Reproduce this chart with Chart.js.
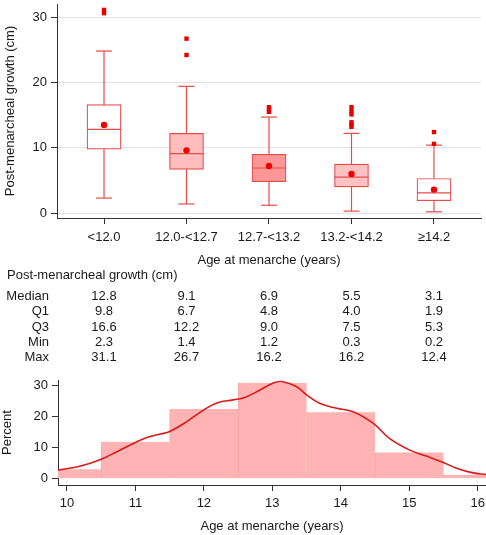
<!DOCTYPE html>
<html>
<head>
<meta charset="utf-8">
<script src="https://cdn.jsdelivr.net/npm/chart.js@4.4.1/dist/chart.umd.min.js"></script>
<style>
  body { margin: 0; background: #fff; font-family: "Liberation Sans", Arial, sans-serif; color: #1a1a1a; }
  #page { position: relative; width: 486px; height: 535px; overflow: hidden; }
  #boxWrap { position: absolute; left: 0; top: 0; width: 486px; height: 275px; }
  #histWrap { position: absolute; left: 0; top: 370px; width: 486px; height: 165px; }
  #summary { position: absolute; left: 0; top: 0; width: 486px; height: 535px; pointer-events: none; }
  #summary div { position: absolute; font-size: 13px; line-height: 15px; white-space: nowrap; }
</style>
</head>
<body>
<div id="page">
  <div id="boxWrap"><canvas id="boxChart"></canvas></div>
  <div id="histWrap"><canvas id="histChart"></canvas></div>
  <div id="summary"></div>
</div>
<script>
// box plot: post-menarcheal growth by age at menarche
const categories = ['<12.0', '12.0-<12.7', '12.7-<13.2', '13.2-<14.2', '≥14.2'];
const medians = [12.8, 9.1, 6.9, 5.5, 3.1];
const q1 = [9.8, 6.7, 4.8, 4.0, 1.9];
const q3 = [16.6, 12.2, 9.0, 7.5, 5.3];
const mins = [2.3, 1.4, 1.2, 0.3, 0.2];
const maxs = [31.1, 26.7, 16.2, 16.2, 12.4];
const whiskerTops = [24.8, 19.4, 14.7, 12.2, 10.4];
const means = [13.5, 9.6, 7.2, 6.0, 3.6];
const outliers = [
    [31.1, 30.6],
    [26.7, 24.2],
    [16.2, 15.9, 15.5],
    [16.2, 15.6, 15.1, 13.9, 13.5, 13.2],
    [12.4, 10.6]
];
const growthTicks = [0, 10, 20, 30];

// histogram + density of age at menarche
const ageBins = [10, 11, 12, 13, 14, 15, 16];
const binPercent = [3.1, 11.9, 22.5, 30.9, 21.4, 8.5, 1.3];
const kdeAge = [9.87, 10.2, 10.5, 10.73, 11.0, 11.17, 11.37, 11.5, 11.75, 12.0, 12.2, 12.43, 12.6, 12.82, 13.0, 13.13, 13.35, 13.5, 13.69, 13.94, 14.18, 14.47, 14.71, 15.0, 15.25, 15.47, 15.69, 15.93, 16.12];
const kdePercent = [2.8, 4.1, 6.3, 8.7, 11.7, 13.3, 14.4, 15.2, 18.4, 22.2, 24.5, 25.4, 26.2, 28.6, 30.7, 31.3, 29.7, 27.0, 24.3, 22.7, 21.6, 17.9, 13.0, 9.3, 7.3, 5.5, 3.4, 1.9, 1.4];
const ageTicks = [10, 11, 12, 13, 14, 15, 16];
const percentTicks = [0, 10, 20, 30];

// styles
const textColor = '#1a1a1a';
const axisColor = '#333333';
const edgeRed = '#e64b4b';
const boxFills = ['#ffffff', '#ffbdbd', '#ff9797', '#ffc1c1', '#ffffff'];
const font = { family: '"Liberation Sans", Arial, sans-serif', size: 13 };

function fixTicks(values) {
    return scale => { scale.ticks = values.map(v => ({ value: v })); };
}

// draw whiskers, caps and medians right after the boxes
const whiskerPlugin = {
    id: 'whiskers',
    afterDatasetDraw(chart, args) {
        if (args.meta.type !== 'bar') return;
        const { ctx } = chart;
        const y = chart.scales.y;
        const capHalf = 8;
        ctx.save();
        ctx.strokeStyle = edgeRed;
        ctx.lineWidth = 1.2;
        args.meta.data.forEach((bar, i) => {
            const cx = bar.x;
            const half = bar.width / 2;
            const lines = [
                [cx, y.getPixelForValue(q3[i]), cx, y.getPixelForValue(whiskerTops[i])],
                [cx - capHalf, y.getPixelForValue(whiskerTops[i]), cx + capHalf, y.getPixelForValue(whiskerTops[i])],
                [cx, y.getPixelForValue(q1[i]), cx, y.getPixelForValue(mins[i])],
                [cx - capHalf, y.getPixelForValue(mins[i]), cx + capHalf, y.getPixelForValue(mins[i])],
                [cx - half, y.getPixelForValue(medians[i]), cx + half, y.getPixelForValue(medians[i])]
            ];
            lines.forEach(l => {
                ctx.beginPath();
                ctx.moveTo(l[0], l[1]);
                ctx.lineTo(l[2], l[3]);
                ctx.stroke();
            });
        });
        ctx.restore();
    }
};

const boxChart = new Chart(document.getElementById('boxChart'), {
    type: 'bar',
    data: {
        datasets: [
            {
                type: 'scatter',
                label: 'Mean',
                data: means.map((v, i) => ({ x: i, y: v })),
                pointStyle: 'circle',
                pointRadius: 3.2,
                pointBorderWidth: 0,
                pointBackgroundColor: '#f00000',
                order: 0
            },
            {
                type: 'scatter',
                label: 'Outside values',
                data: outliers.flatMap((vals, i) => vals.map(v => ({ x: i, y: v }))),
                pointStyle: 'rect',
                pointRadius: 3.1,
                pointBorderWidth: 0,
                pointBackgroundColor: '#e60000',
                order: 1
            },
            {
                type: 'bar',
                label: 'IQR',
                data: q1.map((v, i) => ({ x: i, y: [v, q3[i]] })),
                backgroundColor: boxFills,
                borderColor: edgeRed,
                borderWidth: 1.2,
                borderSkipped: false,
                barThickness: 34,
                order: 2
            }
        ]
    },
    options: {
        responsive: true,
        maintainAspectRatio: false,
        animation: false,
        events: [],
        layout: { padding: { top: 0, right: 5, bottom: 0, left: 0 } },
        plugins: { legend: { display: false }, tooltip: { enabled: false } },
        scales: {
            x: {
                type: 'linear',
                min: -0.57,
                max: 4.57,
                offset: false,
                afterBuildTicks: fixTicks([0, 1, 2, 3, 4]),
                afterFit: s => { s.height = 57; s.paddingLeft = 0; s.paddingRight = 0; },
                ticks: { callback: v => categories[v], font, color: textColor, padding: 6, maxRotation: 0, autoSkip: false },
                grid: { offset: false, drawOnChartArea: false, drawTicks: true, tickLength: 6, tickColor: axisColor, tickWidth: 1 },
                border: { color: axisColor },
                title: { display: true, text: 'Age at menarche (years)', font, color: textColor, padding: { top: 0, bottom: 7 } }
            },
            y: {
                min: -0.75,
                max: 32,
                afterBuildTicks: fixTicks(growthTicks),
                afterFit: s => { s.width = 57; s.paddingTop = 0; s.paddingBottom = 0; },
                ticks: { font, color: textColor, padding: 4 },
                grid: { color: '#e2e2e2', tickColor: axisColor, tickLength: 6 },
                border: { color: axisColor },
                title: { display: true, text: 'Post-menarcheal growth (cm)', font, color: textColor, padding: { top: 3, bottom: 0 } }
            }
        }
    },
    plugins: [whiskerPlugin]
});

new Chart(document.getElementById('histChart'), {
    type: 'bar',
    data: {
        datasets: [
            {
                type: 'line',
                label: 'Density',
                data: kdeAge.map((a, i) => ({ x: a, y: kdePercent[i] })),
                borderColor: '#d91a1a',
                borderWidth: 1.6,
                pointRadius: 0,
                tension: 0.4,
                fill: false,
                order: 0
            },
            {
                type: 'bar',
                label: 'Percent',
                data: ageBins.map((a, i) => ({ x: a, y: binPercent[i] })),
                backgroundColor: '#ffb3b3',
                borderColor: '#f7a6a6',
                borderWidth: { left: 1, right: 0, top: 0, bottom: 0 },
                borderSkipped: false,
                barPercentage: 1,
                categoryPercentage: 1,
                order: 1
            }
        ]
    },
    options: {
        responsive: true,
        maintainAspectRatio: false,
        animation: false,
        events: [],
        layout: { padding: { top: 10, right: 0, bottom: 0, left: 0 } },
        plugins: { legend: { display: false }, tooltip: { enabled: false } },
        scales: {
            x: {
                type: 'linear',
                min: 9.87,
                max: 16.12,
                offset: false,
                afterBuildTicks: fixTicks(ageTicks),
                afterFit: s => { s.height = 50; s.paddingLeft = 0; s.paddingRight = 0; },
                ticks: { font, color: textColor, padding: 5, maxRotation: 0, autoSkip: false },
                grid: { offset: false, drawOnChartArea: false, drawTicks: true, tickLength: 6, tickColor: axisColor, tickWidth: 1 },
                border: { color: axisColor },
                title: { display: true, text: 'Age at menarche (years)', font, color: textColor, padding: { top: 0, bottom: 1 } }
            },
            y: {
                min: -2,
                max: 31.8,
                afterBuildTicks: fixTicks(percentTicks),
                afterFit: s => { s.width = 58; s.paddingTop = 0; s.paddingBottom = 0; },
                ticks: { font, color: textColor, padding: 4 },
                grid: { drawOnChartArea: false, tickLength: 6, tickColor: axisColor },
                border: { color: axisColor },
                title: { display: true, text: 'Percent', font, color: textColor, padding: { top: 0, bottom: 0 } }
            }
        }
    }
});

// summary table, columns lined up under the boxes
function buildSummary() {
    const box = document.getElementById('summary');
    const xs = boxChart.scales.x;
    const rows = [
        ['Median', medians],
        ['Q1', q1],
        ['Q3', q3],
        ['Min', mins],
        ['Max', maxs]
    ];
    const head = document.createElement('div');
    head.style.left = '7px';
    head.style.top = '267px';
    head.textContent = 'Post-menarcheal growth (cm)';
    box.appendChild(head);
    rows.forEach((row, r) => {
        const top = 288 + r * 15.25;
        const label = document.createElement('div');
        label.style.left = '0px';
        label.style.width = '49px';
        label.style.textAlign = 'right';
        label.style.top = top + 'px';
        label.textContent = row[0];
        box.appendChild(label);
        row[1].forEach((v, i) => {
            const cell = document.createElement('div');
            const cx = xs.getPixelForValue(i);
            cell.style.left = (cx - 30) + 'px';
            cell.style.width = '60px';
            cell.style.textAlign = 'center';
            cell.style.top = top + 'px';
            cell.textContent = v.toFixed(1);
            box.appendChild(cell);
        });
    });
}
buildSummary();
</script>
</body>
</html>
